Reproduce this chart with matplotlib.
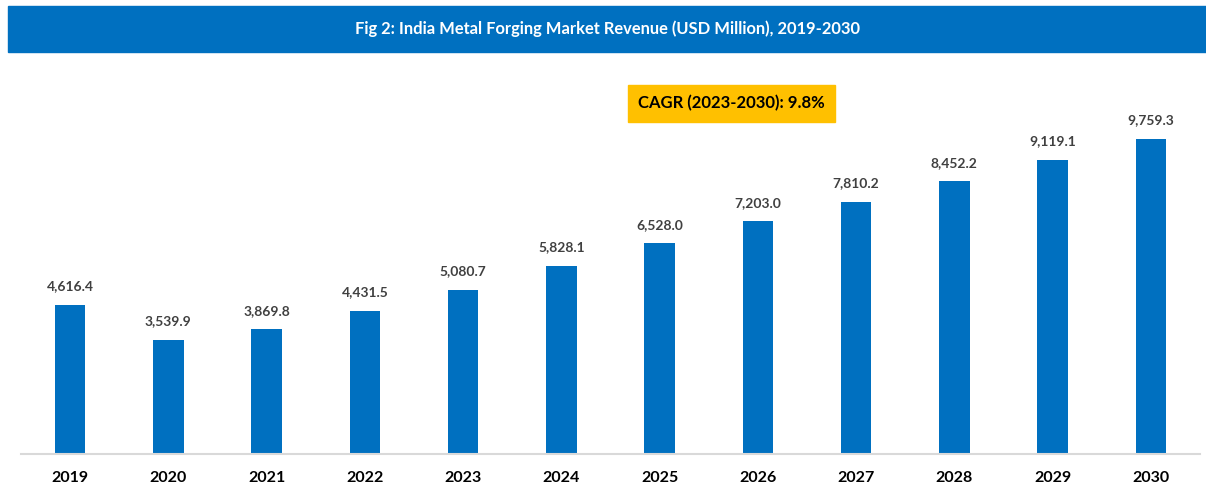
import matplotlib.pyplot as plt
from matplotlib.patches import Rectangle
import numpy as np

# data
years = ['2019', '2020', '2021', '2022', '2023', '2024',
         '2025', '2026', '2027', '2028', '2029', '2030']
revenue = [4616.4, 3539.9, 3869.8, 4431.5, 5080.7, 5828.1,
           6528.0, 7203.0, 7810.2, 8452.2, 9119.1, 9759.3]

title = 'Fig 2: India Metal Forging Market Revenue (USD Million), 2019-2030'
cagr_text = 'CAGR (2023-2030): 9.8%'

blue = '#0070C0'
plt.rcParams['font.family'] = ['Lato', 'DejaVu Sans']

fig = plt.figure(figsize=(12.06, 4.88), dpi=100)

# title band
fig.patches.append(Rectangle((8 / 1206, 1 - 52 / 488), 1 - 8 / 1206, 46 / 488,
                             transform=fig.transFigure, color=blue, zorder=0))
fig.text(0.504, 1 - 29 / 488, title, color='white', fontsize=11.9,
         fontweight='bold', ha='center', va='center')

ax = fig.add_axes([21 / 1206, 34 / 488, 1179 / 1206, 394 / 488])
x = np.arange(len(years))
ax.bar(x, revenue, width=0.31, color=blue)

for xi, v in zip(x, revenue):
    ax.annotate(f'{v:,.1f}', (xi, v), xytext=(0, 9), textcoords='offset points',
                ha='center', va='bottom', fontsize=10, fontweight='bold',
                color='#404040')

ax.set_xlim(-0.5, 11.5)
ax.set_ylim(0, 12206)
ax.set_xticks(x, years, fontsize=11.5, fontweight='bold')
ax.tick_params(axis='x', length=0, pad=12)
ax.set_yticks([])
for s in ['top', 'right', 'left']:
    ax.spines[s].set_visible(False)
ax.spines['bottom'].set_color('#D9D9D9')
ax.spines['bottom'].set_linewidth(1.5)

# CAGR callout
fig.patches.append(Rectangle((628 / 1206, 1 - 122 / 488), 207 / 1206, 37 / 488,
                             transform=fig.transFigure, color='#FFC000', zorder=0))
fig.text(731 / 1206, 1 - 103 / 488, cagr_text, fontsize=12, fontweight='bold',
         ha='center', va='center', color='black')

fig.savefig('out.png', dpi=100)
